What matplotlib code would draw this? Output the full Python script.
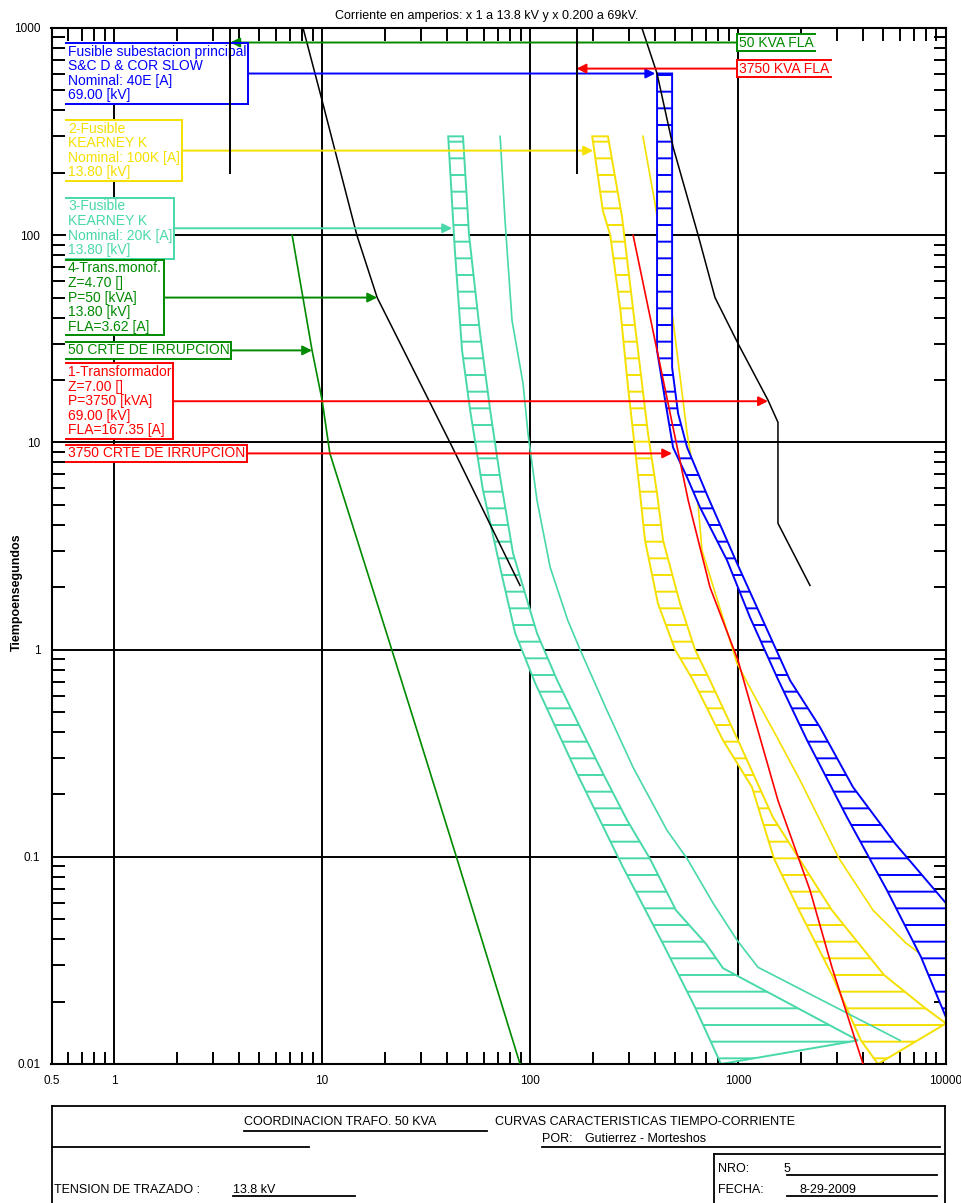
import matplotlib
matplotlib.use("Agg")
import matplotlib.pyplot as plt
from matplotlib import ticker
from matplotlib.lines import Line2D
import numpy as np

plt.rcParams['font.family'] = ['Liberation Sans', 'DejaVu Sans']
plt.rcParams['hatch.linewidth'] = 1.4

AZUL = '#0000ff'
AMARILLO = '#f5e000'
TURQUESA = '#48d8aa'
VERDE = '#008a00'
ROJO = '#ff0000'

# --- curvas (corriente [A], tiempo [s]) ---
# 3-Fusible KEARNEY 20K: fusion minima / despeje total
fus20_mm_x = [40.4, 43.5, 47.1, 51.5, 59.4, 71.8, 84.8, 106, 168, 280, 436, 621, 828]
fus20_mm_y = [300, 84.4, 27.8, 14.3, 5.86, 2.49, 1.2, 0.687, 0.253, 0.089, 0.038, 0.0188, 0.01]
fus20_tc_x = [47.6, 50.9, 57.5, 64.3, 71.8, 82.8, 108, 135, 174, 224, 293, 377, 503, 702, 847, 3776]
fus20_tc_y = [300, 100, 33.6, 14.3, 6.78, 2.92, 1.2, 0.711, 0.422, 0.253, 0.150, 0.098, 0.0552, 0.038, 0.029, 0.013]
fus20_b_x = [71.8, 75.8, 81.9, 92.5, 97.8, 108, 125, 152, 174, 234, 313, 456, 569, 759, 989, 1247, 6012]
fus20_b_y = [300, 118, 38.8, 19.3, 11.0, 5.25, 2.49, 1.38, 1.0, 0.51, 0.27, 0.134, 0.098, 0.0597, 0.0396, 0.0293, 0.013]

# 2-Fusible KEARNEY 100K
fus100_mm_x = [199, 224, 243, 271, 296, 327, 338, 357, 412, 498, 608, 847, 1167, 1489, 1965, 2829, 3900, 4709]
fus100_mm_y = [300, 131, 100, 44.8, 18.4, 7.57, 5.67, 3.37, 1.67, 1.0, 0.711, 0.365, 0.217, 0.098, 0.0552, 0.0269, 0.013, 0.01]
fus100_tc_x = [237, 277, 296, 338, 369, 408, 436, 526, 621, 733, 1000, 1472, 1965, 2829, 5035, 7838, 10000]
fus100_tc_y = [300, 122, 69.8, 23, 11.05, 5.67, 3.37, 1.67, 1.0, 0.711, 0.365, 0.155, 0.098, 0.0552, 0.0269, 0.0188, 0.0157]
fus100_b_x = [349, 399, 487, 569, 636, 671, 989, 1180, 1541, 1987, 3062, 4460, 6425, 10000]
fus100_b_y = [300, 142, 38.8, 11.05, 5.67, 3.01, 0.859, 0.615, 0.377, 0.234, 0.098, 0.0552, 0.0383, 0.0275]

# Fusible subestacion principal S&C 40E
fus40e_mm_x = [408, 408, 446, 487, 569, 657, 885, 1142, 1541, 2148, 3344, 5200, 7586, 10000]
fus40e_mm_y = [603, 27.8, 16, 9.46, 6.78, 4.85, 2.70, 1.43, 0.734, 0.365, 0.155, 0.069, 0.0328, 0.0168]
fus40e_tc_x = [482, 482, 515, 569, 718, 989, 1318, 1778, 2478, 3570, 5688, 10000]
fus40e_tc_y = [603, 23, 13.8, 9.46, 5.43, 2.61, 1.38, 0.711, 0.422, 0.217, 0.116, 0.0597]

# corrientes de irrupcion
irr3750_x = [313, 408, 576, 733, 1000, 1234, 1556, 2218, 2829, 3990]
irr3750_y = [100, 27.8, 5.25, 2.0, 0.887, 0.422, 0.187, 0.069, 0.0293, 0.01]
irr50_x = [7.18, 8.95, 10, 10.9, 20.7, 29.6, 44.5, 89.5]
irr50_y = [100, 27.8, 16, 8.85, 1.15, 0.365, 0.098, 0.01]

# curvas de dano de transformadores
dano50_x = [8.1, 10, 14.7, 18.4, 41.2, 89.5]
dano50_y = [1000, 447, 100, 50, 10, 2.04]
dano3750_x = [345, 408, 488, 643, 775, 1000, 1393, 1556, 1556, 2218]
dano3750_y = [1000, 603, 265, 100, 50, 30, 16, 12.5, 4.07, 2.04]

# corrientes nominales (FLA)
fla_x = [3.62, 167.35]
fla_y = [200, 1000]

# etiquetas con flecha (izquierda)
etiq_txt = ["Fusible subestacion principal\nS&C D & COR SLOW\nNominal: 40E [A]\n69.00 [kV]",
            "2-Fusible\nKEARNEY K\nNominal: 100K [A]\n13.80 [kV]",
            "3-Fusible\nKEARNEY K\nNominal: 20K [A]\n13.80 [kV]",
            "4-Trans.monof.\nZ=4.70 []\nP=50 [kVA]\n13.80 [kV]\nFLA=3.62 [A]",
            "50 CRTE DE IRRUPCIÓN",
            "1-Transformador\nZ=7.00 []\nP=3750 [kVA]\n69.00 [kV]\nFLA=167.35 [A]",
            "3750 CRTE DE IRRUPCIÓN"]
etiq_col = [AZUL, AMARILLO, TURQUESA, VERDE, VERDE, ROJO, ROJO]
etiq_y = [603, 256, 108, 50, 27.8, 15.8, 8.85]
etiq_punta = [400, 201, 42.2, 18.4, 8.95, 1393, 482]

# etiquetas a la derecha
der_txt = ["50 KVA FLA", "3750 KVA FLA"]
der_col = [VERDE, ROJO]
der_y = [851, 637]
der_punta = [3.62, 167.35]

x_ticks = [0.5, 1, 10, 100, 1000, 10000]
x_ticklabels = ["0.5", "1", "10", "100", "1000", "10000"]
y_ticks = [0.01, 0.1, 1, 10, 100, 1000]
y_ticklabels = ["0.01", "0.1", "1", "10", "100", "1000"]

W, H = 961, 1203
fig = plt.figure(figsize=(W / 100, H / 100), dpi=100)
ax = fig.add_axes([51.5 / W, 1 - 1064 / H, (946 - 51.5) / W, (1064 - 28) / H])
ax.set_xscale('log')
ax.set_yscale('log')
ax.set_xlim(0.5, 10000)
ax.set_ylim(0.01, 1000)

ax.set_xticks(x_ticks)
ax.set_xticklabels(x_ticklabels)
ax.set_yticks(y_ticks)
ax.set_yticklabels(y_ticklabels)
for eje in (ax.xaxis, ax.yaxis):
    eje.set_minor_locator(ticker.LogLocator(base=10, subs=np.arange(2, 10), numticks=100))
    eje.set_minor_formatter(ticker.NullFormatter())
ax.tick_params(which='minor', direction='in', length=9, width=1.4,
               top=True, right=True, bottom=True, left=True)
ax.tick_params(which='major', length=0, labelsize=8.5, pad=8)
ax.grid(True, which='major', color='black', linewidth=1.4)
ax.set_axisbelow(True)
for s in ax.spines.values():
    s.set_linewidth(1.5)


def banda(xm, ym, xt, yt, color):
    xs = list(xm) + list(xt)[::-1]
    ys = list(ym) + list(yt)[::-1]
    ax.fill(xs, ys, facecolor='white', edgecolor=color, hatch='-', lw=1.4, zorder=2)


ax.plot(fus100_b_x, fus100_b_y, color=AMARILLO, lw=1.2, zorder=1.5)
banda(fus20_mm_x, fus20_mm_y, fus20_tc_x, fus20_tc_y, TURQUESA)
banda(fus100_mm_x, fus100_mm_y, fus100_tc_x, fus100_tc_y, AMARILLO)
banda(fus40e_mm_x, fus40e_mm_y, fus40e_tc_x, fus40e_tc_y, AZUL)

ax.plot(fus20_b_x, fus20_b_y, color=TURQUESA, lw=1.2, zorder=3)
ax.plot(irr3750_x, irr3750_y, color=ROJO, lw=1.2, zorder=3)
ax.plot(irr50_x, irr50_y, color=VERDE, lw=1.2, zorder=3)
ax.plot(dano50_x, dano50_y, color='black', lw=1.1, zorder=3)
ax.plot(dano3750_x, dano3750_y, color='black', lw=1.1, zorder=3)
for fx in fla_x:
    ax.plot([fx, fx], fla_y, color='black', lw=1.4, zorder=6)

cajas = []
for txt, c, y, px in zip(etiq_txt, etiq_col, etiq_y, etiq_punta):
    t = ax.annotate(txt, xy=(px, y), xytext=(0.6, y), ha='left', va='center',
                    fontsize=10, color=c, linespacing=1.05, zorder=5,
                    bbox=dict(boxstyle='square,pad=0.12', fc='white', ec='none'),
                    arrowprops=dict(arrowstyle='-|>', color=c, lw=1.4, mutation_scale=14,
                                    shrinkA=0, shrinkB=0))
    cajas.append((t, c, 'der'))
for txt, c, y, px in zip(der_txt, der_col, der_y, der_punta):
    t = ax.annotate(txt, xy=(px, y), xytext=(1010, y), ha='left', va='center',
                    fontsize=10, color=c, zorder=5,
                    bbox=dict(boxstyle='square,pad=0.12', fc='white', ec='none'),
                    arrowprops=dict(arrowstyle='-|>', color=c, lw=1.4, mutation_scale=14,
                                    shrinkA=0, shrinkB=0))
    cajas.append((t, c, 'izq'))

# contorno abierto de las cajas de texto
fig.canvas.draw()
rend = fig.canvas.get_renderer()
inv = ax.transData.inverted()
for t, c, lado in cajas:
    bb = t.get_bbox_patch().get_window_extent(rend)
    (x0, y0), (x1, y1) = inv.transform([[bb.x0, bb.y0], [bb.x1, bb.y1]])
    xl = x1 if lado == 'der' else x0
    ax.plot([x0, x1], [y0, y0], color=c, lw=1.4, zorder=5, clip_on=False)
    ax.plot([x0, x1], [y1, y1], color=c, lw=1.4, zorder=5, clip_on=False)
    ax.plot([xl, xl], [y0, y1], color=c, lw=1.4, zorder=5, clip_on=False)

fig.text(487 / W, 1 - 16 / H, "Corriente en amperios: x 1 a 13.8 kV y x 0.200 a 69kV.",
         ha='center', va='center', fontsize=9)
fig.text(17 / W, 1 - 592 / H, "Tiempoensegundos", rotation=90, ha='center', va='center',
         fontsize=9, fontweight='bold')

# cajetin inferior
def P(x, y):
    return x / W, 1 - y / H


segmentos = [((52, 1203), (52, 1106)), ((52, 1106), (945, 1106)), ((945, 1106), (945, 1203)),
             ((52, 1147), (309, 1147)), ((542, 1147), (940, 1147)), ((244, 1131), (487, 1131)),
             ((714, 1154), (945, 1154)), ((714, 1154), (714, 1203)),
             ((787, 1175), (937, 1175)), ((787, 1196), (937, 1196)), ((233, 1196), (355, 1196))]
for a, b in segmentos:
    (xa, ya), (xb, yb) = P(*a), P(*b)
    fig.add_artist(Line2D([xa, xb], [ya, yb], color='black', lw=1.3))

textos = [(244, 1122, "COORDINACION TRAFO. 50 KVA"),
          (495, 1122, "CURVAS CARACTERISTICAS TIEMPO-CORRIENTE"),
          (542, 1139, "POR:"), (585, 1139, "Gutierrez - Morteshos"),
          (54, 1190, "TENSION DE TRAZADO :"), (233, 1190, "13.8 kV"),
          (718, 1169, "NRO:"), (784, 1169, "5"),
          (718, 1190, "FECHA:"), (800, 1190, "8-29-2009")]
for x, y, s in textos:
    fig.text(*P(x, y), s, ha='left', va='center', fontsize=9)

fig.savefig("out.png", dpi=100)
